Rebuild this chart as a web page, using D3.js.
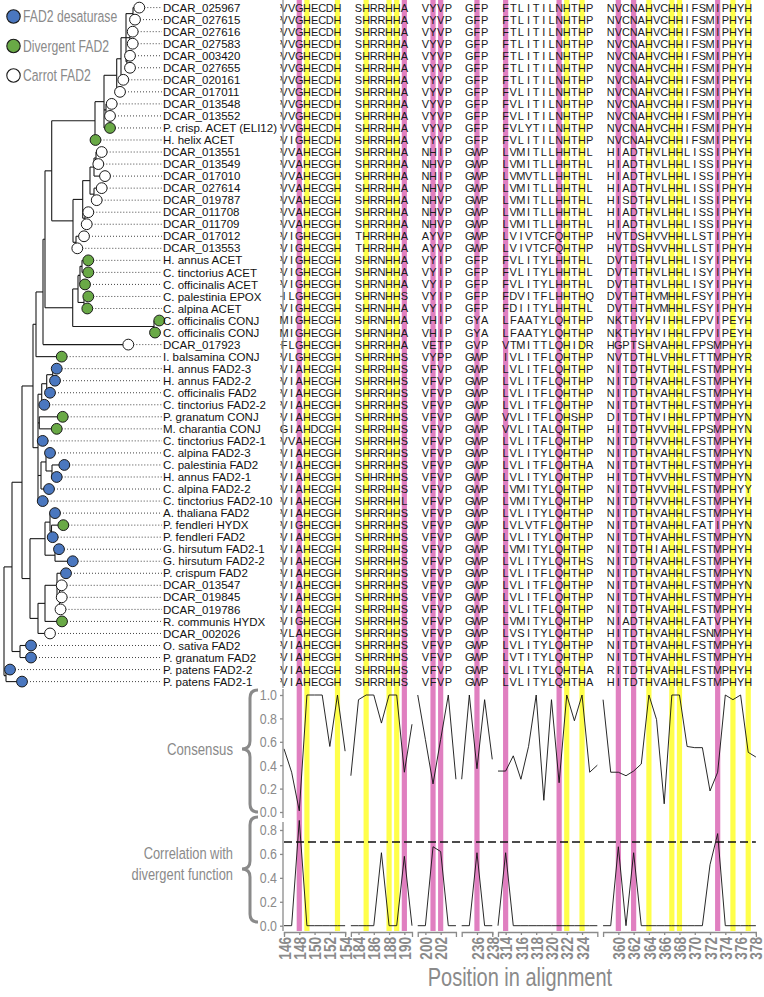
<!DOCTYPE html>
<html><head><meta charset="utf-8">
<script src="https://cdn.jsdelivr.net/npm/d3@7"></script>
<style>
body{margin:0;background:#fff}
</style></head><body>
<svg id="chart" width="764" height="997"></svg>
<script>
// ---------------- DATA ----------------
const labels = ["DCAR_025967","DCAR_027615","DCAR_027616","DCAR_027583","DCAR_003420","DCAR_027655","DCAR_020161","DCAR_017011","DCAR_013548","DCAR_013552",
"P. crisp. ACET (ELI12)","H. helix ACET","DCAR_013551","DCAR_013549","DCAR_017010","DCAR_027614","DCAR_019787","DCAR_011708","DCAR_011709","DCAR_017012",
"DCAR_013553","H. annus ACET","C. tinctorius ACET","C. officinalis ACET","C. palestinia EPOX","C. alpina ACET","C. officinalis CONJ","C. officinalis CONJ","DCAR_017923","I. balsamina CONJ",
"H. annus FAD2-3","H. annus FAD2-2","C. officinalis FAD2","C. tinctorius FAD2-2","P. granatum CONJ","M. charantia CONJ","C. tinctorius FAD2-1","C. alpina FAD2-3","C. palestinia FAD2","H. annus FAD2-1",
"C. alpina FAD2-2","C. tinctorius FAD2-10","A. thaliana FAD2","P. fendleri HYDX","P. fendleri FAD2","G. hirsutum FAD2-1","G. hirsutum FAD2-2","P. crispum FAD2","DCAR_013547","DCAR_019845",
"DCAR_019786","R. communis HYDX","DCAR_002026","O. sativa FAD2","P. granatum FAD2","P. patens FAD2-2","P. patens FAD2-1"];

// C = carrot FAD2, D = divergent FAD2, F = FAD2 desaturase
const types = ["C","C","C","C","C","C","C","C","C","C","D","D","C","C","C","C","C","C","C","C",
"C","D","D","D","D","D","D","D","C","D","F","F","F","F","D","D","F","F","F","F",
"F","F","F","D","F","F","F","F","C","C","C","D","C","F","F","F","F"];

const sequences = [
"VVGHECDH SHRRHHA VYVP GFP FTLITILNHTHP NVCNAHVCHHIFSMIPHYH",
"VVGHECDH SHRRHHA VYVP GFP FTLITILNHTHP NVCNAHVCHHIFSMIPHYH",
"VVGHECDH SHRRHHA VYVP GFP FTLITILNHTHP NVCNAHVCHHIFSMIPHYH",
"VVGHECDH SHRRHHA VYVP GFP FTLITILNHTHP NVCNAHVCHHIFSMIPHYH",
"VVGHECDH SHRRHHA VYVP GFP FTLITILNHTHP NVCNAHVCHHIFSMIPHYH",
"VVGHECDH SHRRHHA VYVP GFP FTLITILNHTHP NVCNAHVCHHIFSMIPHYH",
"VVGHECDH SHRRHHA VYVP GFP FTLITILNHTHP NVCNAHVCHHIFSMIPHYH",
"VVGHECDH SHRRHHA VYVP GFP FVLITILNHTHP NVCNAHVCHHIFSMIPHYH",
"VVGHECDH SHRRHHA VYVP GFP FVLITILNHTHP NVCNAHVCHHIFSMIPHYH",
"VVGHECDH SHRRHHA VYVP GFP FVLITILNHTHP NVCNAHVCHHIFSMIPHYH",
"VVGHECDH SHRRHHA VYVP GFP FVLYTILNHTHP NVCNAHVCHHIFSMIPHYH",
"VIGHECDH SHRRHHA VYVP GFP FVLITILNHTHP NVCNAHVCHHIFSMIPHYH",
"VVAHECGH SHRRHHA NHIP GWP LVMITLLHHTHL HIADTHVLHHLISSIPHYH",
"VVAHECGH SHRRHHA NHVP GWP LVMITLLHHTHL HIADTHVLHHLISSIPHYH",
"VVAHECGH SHRRHHA NHIP GWP LVMVTLLHHTHL HIADTHVLHHLISSIPHYH",
"VVAHECGH SHRRHHA NHVP GWP LVMITLLHHTHL HIADTHVLHHLISSIPHYH",
"VVAHECGH SHRRHHA NHVP GWP LVMITLLHHTHL HISDTHVLHHLISSIPHYH",
"VVAHECGH SHRRHHA NHVP GWP LVMITLLHHTHL HIADTHVLHHLISSIPHYH",
"VVAHECGH SHRRHHA NHVP GWP LVMITLLHHTHL HIADTHVLHHLISSIPHYH",
"VIGHECGH THRRHHA AYVP GWP LVIVTCFQHTHP HVTDSHVVHHLLSTIPHYH",
"VIGHECGH THRRHHA AYVP GWP LVIVTCFQHTHP HVTDSHVVHHLLSTIPHYH",
"VIGHECGH SHRNHHA VYIP GFP FVLITYLHHTHL DVTHTHVLHHLISYIPHYH",
"VIGHECGH SHRNHHA VYIP GFP FVLITYLHHTHL DVTHTHVLHHLISYIPHYH",
"VIGHECGH SHRNHHA VYIP GFP FVLITYLHHTHL DVTHTHVLHHLISYIPHYH",
"ILGHECGH SHRNHHS VYIP GFP FDVITFLHHTHQ DVTHTHVMHHLFSYIPHYH",
"VIGHECGH SHRNHHA VYIP GFP FDIITYLHHTHL DVTHTHVMHHLFSYIPHYH",
"MIGHECGH SHRNHHA VHIP GYA LFAATYLQHTHP NKTHYHVIHHLFPVIPEYH",
"MIGHECGH SHRNHHA VHIP GYA LFAATYLQHTHP NKTHYHVIHHLFPVIPEYH",
"FLGHECGH SHRRHHA VETP GVP VTMITTLQHIDR HGPTSHVAHHLFPSMPHYH",
"VLGHECGH SHRRHHS VYPP GWP IVLITFLQHTHP NVTDTHLVHHLFTTMPHYR",
"VIAHECGH SHRRHHS VFVP GWP LVLITFLQHTHP NITDTHVTHHLFSTMPHYH",
"VIAHECGH SHRRHHS VFVP GWP LVLITFLQHTHP NITDTHVAHHLFSTMPHYH",
"VIAHECGH SHRRHHS VFVP GWP LVLITFLQHTHP NITDTHVAHHLFSTMPHYH",
"VIAHECGH SHRRHHS VFVP GWP LVLITFLQHTHP NITDTHVTHHLFSTMPHYH",
"VIAHECGH SHRRHHS VFVP GWP VVLITFLQHSHP DITDTHVIHHLFPTMPHYN",
"GIAHDCGH SHRRHHS VFVP GWP VVLITALQHTHP HITDTHVVHHLFPSMPHYN",
"VVAHECGH SHRRHHS VFVP GWP LVLITFLQHTHP NITDTHVVHHLFSTMPHYH",
"VIAHECGH SHRRHHS VFVP GWP LVLITYLQHTHP NITDTHVAHHLFSTMPHYN",
"VIAHECGH SHRRHHS VFVP GWP LVLITFLQHTHA NITDTHVTHHLFSTMPHYH",
"VIAHECGH SHHRHHS VFVP GWP LVLITYLQHTHP HITDTHVVHHLFSTMPHYN",
"VIAHECGH SHRRHHS VFVP GWP LVMITYLQHTHP NITDTHVVHHLFSTMPHYY",
"VIAHECGH SHRRHHL VFVP GWP LVMITYLQHTHP NITDTHVVHHLFSTMPHYH",
"VIAHECGH SHRRHHS VFVP GWP LVLITYLQHTHP NITDTHVAHHLFSTMPHYH",
"VIGHECGH SHRRHHS VFVP GWP LVLVTFLQHTHP NITDTHVAHHLFATIPHYN",
"VIAHECGH SHRRHHS VFVP GWP LVLITYLQHTHP NITDTHVAHHLFSTMPHYN",
"VIAHECGH SHRRHHS VFVP GWP LVMITYLQHTHP NITDTHIAHHLFSTMPHYH",
"VIAHECGH SHRRHHS VFVP GWP LVLITYLQHTHS NITDTHVAHHLFSTMPHYH",
"VIAHECGH SHRRHHS VFVP GWP LVLITFLQHTHP NITDTHVAHHLFSTMPHYN",
"VIAHECGH SHRRHHS VFVP GWP LVLITFLQHTHP NITDTHVAHHLFSTMPHYN",
"VIAHECGH SHRRHHS VFVP GWP LVLITFLQHTHP NITDTHVAHHLFSTMPHYH",
"VIAHECGH SHRRHHS VFVP GWP LVLITFLQHTHP NITDTHVAHHLFSTMPHYH",
"VIGHECGH SHRRHHS VFVP GWP LVMITYLQHTHP NIADTHVAHHLFATVPHYH",
"VLAHECGH SHRRHHS VFVP GWP LVSITYLQHTHP HITDTHVAHHLFSNMPHYH",
"VIAHECGH SHRRHHS VFVP GWP LVLITYLQHTHP NITDTHVAHHLFSTMPHYH",
"VIAHECGH SHRRHHS VFVP GWP LVTITYLQHTHP NITDTHVAHHLFSTMPHYH",
"VIAHECGH SHRRHHS VFVP GWP LVLITYLQHTHA RITDTHVAHHLFSTMPHYH",
"VIAHECGH SHRRHHS VFVP GWP LVLITYLQHTHA HITDTHVAHHLFSTMPHYH"];

// phylogeny (branch lengths), leaves L1..L57 in row order
const treeNewick = `
(
 (
  (
   (
    (
     (
      (
       (
        (
         (
          (
           (
            ((L1:0.063,L2:0.02):0.07,(L3:0.027,L4:0.027):0.04,(L5:0.03,L6:0.03):0.01):0.05,
            L7:0.023
           ):0.043,
           L8:0.033
          ):0.127,
          (L9:0.057,L10:0.04):0.02,
          L11:0.06
         ):0.09,
         L12:0.005
        ):0.433,
        (
         (
          (((L13:0.057,L14:0.023):0.02,L15:0.11):0.04,(L16:0.077,L17:0.027):0.04):0.073,
          (L18:0.033,L19:0.017):0.023
         ):0.097,
         (L20:0.08,L21:0.013):0.03
        ):0.213
       ):0.067,
       (
        (((L22:0.063,L23:0.063):0.02,L24:0.05):0.02,(L25:0.043,L26:0.033):0.06):0.053,
        (L27:0.053,L28:0.01):0.813
       ):0.277
      ):0.02,
      L29:0.853
     ):0.07,
     L30:0.257
    ):0.03,
    (
     (((L31:0.04,L32:0.023):0.06,L33:0.033):0.05,L34:0.026):0.037,
     (L35:0.234,L36:0.174):0.013,
     L37:0.047,
     ((L38:0.04,(L39:0.123,L40:0.047):0.06):0.05,L41:0.08):0.03,
     L42:0.047
    ):0.05
   ):0.11,
   (
    ((L43:0.05,(L44:0.118,L45:0.012):0.015):0.05,(L46:0.04,L47:0.177):0.10):0.15,
    (((L48:0.09,(L49:0.022,L50:0.022,L51:0.01):0.025):0.12,L52:0.17):0.07,L53:0.12):0.08
   ):0.08
  ):0.10,
  (L54:0.11,L55:0.11):0.08
 ):0.08,
 (L56:0.04,L57:0.16):0.02
);`;

// alignment blocks (positions)
const segStart = [146, 183, 199, 234, 313, 358];
const segEnd   = [154, 191, 204, 238, 326, 378];
const seqStart = [146, 184, 200, 235, 314, 359];
const xTicks = [[146,148,150,152,154],[184,186,188,190],[200,202],[236,238],[314,316,318,320,322,324],[360,362,364,366,368,370,372,374,376,378]];
const pinkCols   = [148, 190, 201, 202, 236, 314, 321, 360, 362, 373];
const yellowCols = [149, 153, 185, 188, 189, 322, 324, 364, 367, 368, 375, 377];

const consensus = [
 [0.54,0.34,0.01,1,1,1,0.56,1,0.52],
 [0.31,0.96,1,1,0.76,1,1,0.34,0.75],
 [1,0.62,0.24,0.62,1,0.28],
 [0.28,1,0.37,0.96,0.45],
 [0.35,0.35,0.48,0.28,0.56,1,0.1,0.96,0.25,1,0.78,1,0.34,0.4],
 [0.96,0.34,0.34,0.31,0.35,0.41,1,0.79,0.07,1,1,0.56,0.55,0.55,0.18,0.34,1,0.96,1,0.51,0.47]
];
const correlation = [
 [0,0,0.88,0,0,0,0,0,0],
 [0,0,0,0,0.61,0,0,0.58,0],
 [0,0,0.66,0.62,0,0],
 [0,0,0.61,0,0],
 [0,0.61,0,0,0,0,0,0,0,0,0,0,0,0],
 [0,0,0.66,0,0.61,0,0,0,0,0,0,0,0,0,0.51,0.77,0,0,0,0,0]
];
const consTicks = [0,0.2,0.4,0.6,0.8,1.0];
const corrTicks = [0,0.2,0.4,0.6,0.8];
const threshold = 0.7;
const legendItems = [["F","FAD2 desaturase"],["D","Divergent FAD2"],["C","Carrot FAD2"]];

// ---------------- STYLE ----------------
const fillOf = {F:"#4a77bf", D:"#69a946", C:"#ffffff"};
const GRAY = "#8a8a8a";
const PINK = "#e07fc0", YELLOW = "#ffff4a";
const SANS = "'Liberation Sans',Arial,Helvetica,sans-serif";
const NARROW = 0.8;   // horizontal squeeze for the condensed grey labels

// ---------------- DRAW ----------------
const svg = d3.select("#chart");
const rowY = d3.scaleLinear().domain([0, labels.length-1]).range([7.6, 681.6]);

const step = 7.64, gapPx = 5.75;
let cur = 284;
const segScales = segStart.map((s,k)=>{
  const w = (segEnd[k]-s)*step;
  const sc = d3.scaleLinear().domain([s, segEnd[k]]).range([cur, cur+w]);
  cur += w + gapPx;
  return sc;
});
function xPos(p){
  const k = segStart.findIndex((s,i)=>p>=s && p<=segEnd[i]);
  return segScales[k](p);
}
const yCons = d3.scaleLinear().domain([0,1]).range([812, 695]);
const yCorr = d3.scaleLinear().domain([0,0.8]).range([925.7, 830]);
const barBottom = 931;

function grayText(x,y,txt,size,anchor,sq){
  svg.append("text").attr("transform",`translate(${x},${y}) scale(${sq||NARROW},1)`)
    .attr("dy","0.35em").attr("text-anchor",anchor).attr("fill",GRAY)
    .attr("font-family",SANS).style("font-size",size+"px").text(txt);
}

// highlight columns
svg.append("g").selectAll("rect").data(pinkCols.map(p=>({p,c:PINK})).concat(yellowCols.map(p=>({p,c:YELLOW}))))
  .join("rect").attr("x",d=>xPos(d.p)-2.6).attr("width",5.2).attr("y",0).attr("height",barBottom)
  .attr("fill",d=>d.c);

// alignment letters
const gA = svg.append("g").attr("font-family",SANS).attr("font-size","11px").attr("fill","#1a1a1a");
sequences.forEach((seq,r)=>{
  seq.split(" ").forEach((blk,k)=>{
    blk.split("").forEach((ch,i)=>{
      gA.append("text").attr("x",xPos(seqStart[k]+i)).attr("y",rowY(r)).attr("dy","0.36em")
        .attr("text-anchor","middle").text(ch);
    });
  });
});

// alignment left axis
const gAx = svg.append("g").attr("stroke",GRAY).attr("stroke-width",1.2);
gAx.append("line").attr("x1",283).attr("x2",283).attr("y1",0).attr("y2",688);
labels.forEach((l,r)=>gAx.append("line").attr("x1",280).attr("x2",283).attr("y1",rowY(r)).attr("y2",rowY(r)));

// consensus & correlation lines
const lineC = d3.line().x(d=>xPos(d.p)).y(d=>yCons(d.v));
const lineR = d3.line().x(d=>xPos(d.p)).y(d=>yCorr(d.v));
segStart.forEach((s,k)=>{
  svg.append("path").attr("d",lineC(consensus[k].map((v,i)=>({p:s+i,v}))))
    .attr("fill","none").attr("stroke","#111").attr("stroke-width",0.9);
  svg.append("path").attr("d",lineR(correlation[k].map((v,i)=>({p:s+i,v}))))
    .attr("fill","none").attr("stroke","#111").attr("stroke-width",0.9);
});
svg.append("line").attr("x1",xPos(segStart[0])).attr("x2",xPos(segEnd[segEnd.length-1]))
  .attr("y1",yCorr(threshold)).attr("y2",yCorr(threshold))
  .attr("stroke","#111").attr("stroke-width",1.6).attr("stroke-dasharray","8,4");

// y axes
function styleAxis(g,size,weight){
  g.selectAll("path,line").attr("stroke",GRAY).attr("stroke-width",1.3);
  g.selectAll("text").attr("fill",GRAY).attr("font-family",SANS).attr("font-weight",weight||"normal").style("font-size",size+"px");
}
function yAxis(scale,ticks,y0,y1){
  const g = svg.append("g").attr("transform","translate(283,0)")
    .call(d3.axisLeft(scale).tickValues(ticks).tickFormat(d3.format(".1f")).tickSize(3).tickPadding(2).tickSizeOuter(0));
  g.select(".domain").remove();
  g.append("line").attr("x1",0).attr("x2",0).attr("y1",y0).attr("y2",y1);
  styleAxis(g,15.5);
  g.selectAll(".tick text").attr("transform",`scale(${NARROW},1)`).attr("x",-6/NARROW);
}
yAxis(yCons,consTicks,689,818);
yAxis(yCorr,corrTicks,822,931);

// x axes
segScales.forEach((sc,k)=>{
  const g = svg.append("g").attr("transform",`translate(0,${barBottom+1})`)
    .call(d3.axisBottom(sc).tickValues(xTicks[k]).tickFormat(d3.format("d")).tickSize(3).tickSizeOuter(5));
  styleAxis(g,17,"bold");
  g.selectAll(".tick text").attr("transform",`rotate(-90) scale(${NARROW},1)`).attr("x",-5/NARROW).attr("y",0).attr("dy","0.36em")
    .style("text-anchor","end");
});

// panel labels + braces
function brace(x,y0,y1,ym){
  const t=8;
  return `M${x+t},${y0} Q${x},${y0} ${x},${y0+t} L${x},${ym-t} Q${x},${ym} ${x-t},${ym} Q${x},${ym} ${x},${ym+t} L${x},${y1-t} Q${x},${y1} ${x+t},${y1}`;
}
svg.append("path").attr("d",brace(250,690,812,749)).attr("fill","none").attr("stroke",GRAY).attr("stroke-width",3);
svg.append("path").attr("d",brace(250,817,922,869)).attr("fill","none").attr("stroke",GRAY).attr("stroke-width",3);
grayText(233,749,"Consensus",16.5,"end");
grayText(233,853,"Correlation with",16.5,"end",0.78);
grayText(233,874,"divergent function",16.5,"end",0.78);
grayText((xPos(segStart[0])+xPos(segEnd[5]))/2,977,"Position in alignment",25,"middle");

// ---------------- TREE ----------------
function parseNewick(str){
  const s = str.replace(/\s+/g,"");
  let i=0;
  function node(){
    const n={};
    if(s[i]==="("){
      i++; n.children=[node()];
      while(s[i]===","){i++; n.children.push(node());}
      i++;
    }
    let name=""; while(i<s.length && !",():;".includes(s[i])) name+=s[i++];
    n.name=name;
    if(s[i]===":"){i++; let num=""; while(i<s.length && !",();".includes(s[i])) num+=s[i++]; n.len=+num;} else n.len=0;
    return n;
  }
  return node();
}
const root = d3.hierarchy(parseNewick(treeNewick));
root.each(n=>{ n.dist = n.parent ? n.parent.dist + n.data.len : 0; });
const treeX = d3.scaleLinear().domain([0,1]).range([4,104]);
root.eachAfter(n=>{
  if(!n.children){ n.row = +n.data.name.slice(1)-1; n.y = rowY(n.row); }
  else { n.y = (n.children[0].y + n.children[n.children.length-1].y)/2; }
});
const gT = svg.append("g").attr("stroke","#1a1a1a").attr("stroke-width",1.1).attr("fill","none");
root.descendants().forEach(n=>{
  if(n.children){
    gT.append("line").attr("x1",treeX(n.dist)).attr("x2",treeX(n.dist))
      .attr("y1",n.children[0].y).attr("y2",n.children[n.children.length-1].y);
  }
  if(n.parent){
    gT.append("line").attr("x1",treeX(n.parent.dist)).attr("x2",treeX(n.dist)).attr("y1",n.y).attr("y2",n.y);
  }
});
const leaves = root.leaves();
const labelX = 163;
svg.append("g").selectAll("line").data(leaves).join("line")
  .attr("x1",d=>treeX(d.dist)+5).attr("x2",labelX-1).attr("y1",d=>d.y).attr("y2",d=>d.y)
  .attr("stroke","#444").attr("stroke-width",1).attr("stroke-dasharray","1,2");
svg.append("g").selectAll("circle").data(leaves).join("circle")
  .attr("cx",d=>treeX(d.dist)).attr("cy",d=>d.y).attr("r",5.4)
  .attr("fill",d=>fillOf[types[d.row]]).attr("stroke","#1a1a1a").attr("stroke-width",1);
svg.append("g").attr("font-family",SANS).attr("font-size","11.5px").attr("fill","#111")
  .selectAll("text").data(leaves).join("text")
  .attr("x",labelX).attr("y",d=>d.y).attr("dy","0.36em").text(d=>labels[d.row]);

// legend
legendItems.forEach(([t,txt],i)=>{
  const y = 16.5 + i*29.5;
  svg.append("circle").attr("cx",13.5).attr("cy",y).attr("r",6.7).attr("fill",fillOf[t]).attr("stroke","#1a1a1a").attr("stroke-width",1.1);
  grayText(23,y,txt,16.5,"start",0.74);
});
</script>
</body></html>
